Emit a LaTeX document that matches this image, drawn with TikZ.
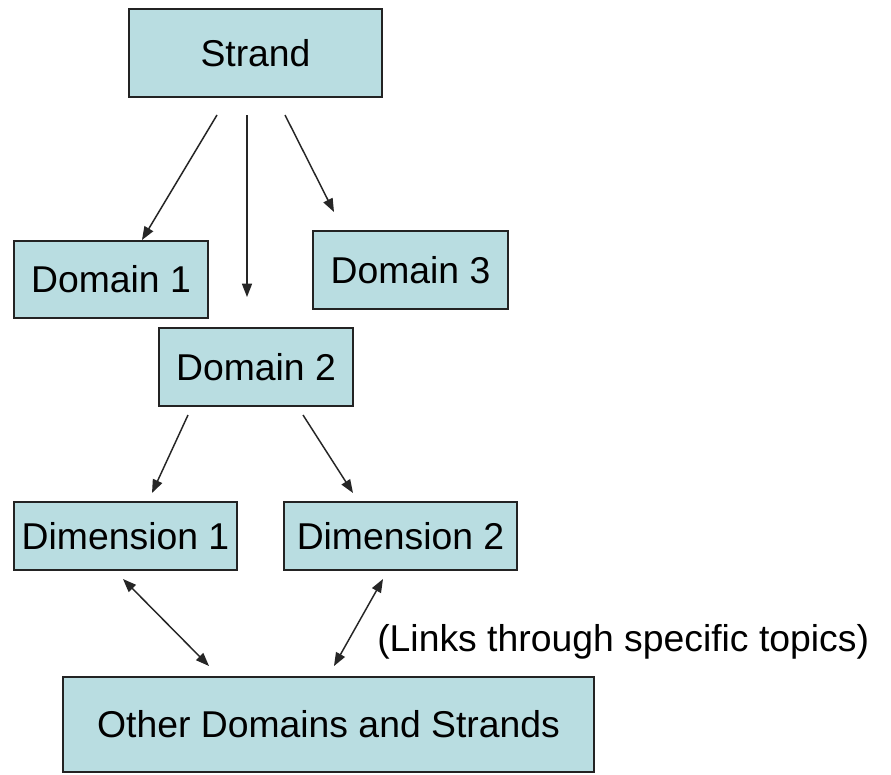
\documentclass[tikz,border=0pt]{standalone}
\usepackage{fontspec}
\setmainfont{Liberation Sans}
\usetikzlibrary{arrows.meta}
\definecolor{boxfill}{RGB}{185,221,225}
\definecolor{boxline}{RGB}{35,35,35}
\begin{document}
\begin{tikzpicture}[x=0.75pt,y=-0.75pt,
  box/.style={draw=boxline,line width=1.3pt,fill=boxfill,inner sep=0pt,
    font=\fontsize{28}{32}\selectfont,text=black},
  arr/.style={draw=black!85,line width=1.1pt,-{Triangle[length=10pt,width=7.5pt]}},
  dbl/.style={draw=black!85,line width=1.1pt,{Triangle[length=10pt,width=7.5pt]}-{Triangle[length=10pt,width=7.5pt]}}]
\useasboundingbox[fill=white] (0,0) rectangle (891,774);
\node[box,minimum width=189.75pt,minimum height=66pt] (strand) at (255.5,53) {Strand};
\node[box,minimum width=145.5pt,minimum height=57.75pt] (dom1) at (111,279.5) {Domain 1};
\node[box,minimum width=146.25pt,minimum height=58.5pt] (dom3) at (410.5,270) {Domain 3};
\node[box,minimum width=145.5pt,minimum height=58.5pt] (dom2) at (256,367) {Domain 2};
\node[box,minimum width=167.25pt,minimum height=51pt] (dim1) at (125.5,536) {Dimension 1\hspace{9pt}};
\node[box,minimum width=174.75pt,minimum height=51pt] (dim2) at (400.5,536) {Dimension 2};
\node[box,minimum width=398.25pt,minimum height=71.25pt] (other) at (328.5,724.5) {Other Domains and Strands};
\node[font=\fontsize{28}{32}\selectfont,anchor=base west,inner sep=0pt] (links) at (377,651) {(Links through specific topics)};
% arrow end points
\coordinate (s1) at (217,115); \coordinate (e1) at (142,240);
\coordinate (s2) at (247,115); \coordinate (e2) at (247,297);
\coordinate (s3) at (285,115); \coordinate (e3) at (334,212);
\coordinate (s4) at (188,415); \coordinate (e4) at (152,493);
\coordinate (s5) at (303,415); \coordinate (e5) at (353,493);
\coordinate (s6) at (123,579); \coordinate (e6) at (209,666);
\coordinate (s7) at (383,579); \coordinate (e7) at (334,666);
\draw[arr] (s1) -- (e1);
\draw[arr] (s2) -- (e2);
\draw[arr] (s3) -- (e3);
\draw[arr] (s4) -- (e4);
\draw[arr] (s5) -- (e5);
\draw[dbl] (s6) -- (e6);
\draw[dbl] (s7) -- (e7);
\end{tikzpicture}
\end{document}
